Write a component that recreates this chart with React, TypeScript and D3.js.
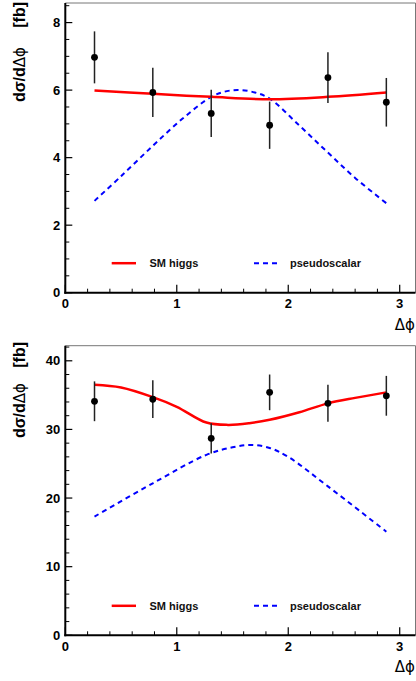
import React from "react";
import * as d3 from "d3";

// ---------- data ----------
const binCenters = [0.262, 0.785, 1.309, 1.833, 2.356, 2.88];

const topData = [6.97, 5.93, 5.31, 4.96, 6.37, 5.64];
const topErr = [0.77, 0.73, 0.7, 0.7, 0.75, 0.72];
const topSmX = [0.262, 0.785, 1.309, 1.833, 2.356, 2.88];
const topSmY = [5.99, 5.89, 5.8, 5.73, 5.8, 5.93];
const topPsX = [0.262, 0.5, 0.785, 1.05, 1.309, 1.45, 1.57, 1.7, 1.833, 2.1, 2.356, 2.6, 2.88];
const topPsY = [2.72, 3.45, 4.35, 5.15, 5.8, 5.97, 6.0, 5.93, 5.75, 4.95, 4.15, 3.4, 2.65];
const topYTicks = [0, 2, 4, 6, 8];

const botData = [34.1, 34.4, 28.7, 35.4, 33.8, 34.9];
const botErr = [2.9, 2.75, 2.2, 2.6, 2.7, 2.9];
const botSmX = [0.262, 0.5, 0.785, 1.0, 1.266, 1.46, 1.65, 1.833, 2.1, 2.356, 2.6, 2.88];
const botSmY = [36.5, 36.1, 34.7, 33.3, 31.0, 30.66, 30.9, 31.4, 32.5, 33.8, 34.6, 35.4];
const botPsX = [0.262, 0.785, 1.266, 1.5, 1.665, 1.833, 2.0, 2.356, 2.88];
const botPsY = [17.3, 22.15, 26.3, 27.4, 27.74, 27.3, 26.0, 21.7, 15.1];
const botYTicks = [0, 10, 20, 30, 40];

const xTicks = [0, 1, 2, 3];
const legendLabels = ["SM higgs", "pseudoscalar"];

const FONT = "'Liberation Sans', Arial, Helvetica, sans-serif";
const GREEK = "'DejaVu Sans', 'Liberation Sans', sans-serif";

type PanelProps = {
  top: number;
  bottom: number;
  yMax: number;
  yTicks: number[];
  yMinorStep: number;
  data: number[];
  err: number[];
  smX: number[];
  smY: number[];
  psX: number[];
  psY: number[];
  unitEnd: number;
  labelEnd: number;
};

function Panel(p: PanelProps) {
  const left = 65.3;
  const right = 415.5;
  const x = d3.scaleLinear().domain([0, Math.PI]).range([left, right]);
  const y = d3.scaleLinear().domain([0, p.yMax]).range([p.bottom, p.top]);

  const line = d3
    .line<[number, number]>()
    .x((d) => x(d[0]))
    .y((d) => y(d[1]))
    .curve(d3.curveCatmullRom.alpha(0.5));

  const smPath = line(p.smX.map((v, i) => [v, p.smY[i]] as [number, number])) || "";
  const psPath = line(p.psX.map((v, i) => [v, p.psY[i]] as [number, number])) || "";

  const xMinor = d3.range(0, 3.15, 0.2).filter((v) => Math.abs(v - Math.round(v)) > 1e-6);
  const yMinor = d3
    .range(0, p.yMax, p.yMinorStep)
    .filter((v) => !p.yTicks.some((t) => Math.abs(t - v) < 1e-6));

  const legendY = p.bottom - 29.5;

  return (
    <g>
      {/* frame */}
      <line x1={left} x2={right} y1={p.top} y2={p.top} stroke="#777" strokeWidth={1} />
      <line x1={right} x2={right} y1={p.top} y2={p.bottom} stroke="#777" strokeWidth={1} />

      {/* curves */}
      <path d={psPath} fill="none" stroke="#0000ff" strokeWidth={2} strokeDasharray="5,4" />
      <path d={smPath} fill="none" stroke="#ff0000" strokeWidth={2.5} />

      {/* data points */}
      {binCenters.map((c, i) => (
        <g key={i}>
          <line
            x1={x(c)}
            x2={x(c)}
            y1={y(p.data[i] + p.err[i])}
            y2={y(p.data[i] - p.err[i])}
            stroke="#222"
            strokeWidth={1.5}
          />
          <circle cx={x(c)} cy={y(p.data[i])} r={3.4} fill="#000" />
        </g>
      ))}

      {/* axes */}
      <line x1={left} x2={left} y1={p.top} y2={p.bottom + 1} stroke="#000" strokeWidth={2} />
      <line x1={left - 1} x2={right} y1={p.bottom} y2={p.bottom} stroke="#000" strokeWidth={2} />

      {xTicks.map((t) => (
        <g key={"xt" + t}>
          <line x1={x(t)} x2={x(t)} y1={p.bottom} y2={p.bottom - 8} stroke="#000" strokeWidth={1.2} />
          <text
            x={x(t)}
            y={p.bottom + 15.5}
            textAnchor="middle"
            fontFamily={FONT}
            fontWeight="bold"
            fontSize={13}
            fill="#000"
          >
            {t}
          </text>
        </g>
      ))}
      {xMinor.map((t, i) => (
        <line key={"xm" + i} x1={x(t)} x2={x(t)} y1={p.bottom} y2={p.bottom - 4} stroke="#000" strokeWidth={1} />
      ))}

      {p.yTicks.map((t) => (
        <g key={"yt" + t}>
          <line x1={left} x2={left + 7} y1={y(t)} y2={y(t)} stroke="#000" strokeWidth={1.2} />
          <text
            x={left - 5}
            y={y(t) + 4.7}
            textAnchor="end"
            fontFamily={FONT}
            fontWeight="bold"
            fontSize={13}
            fill="#000"
          >
            {t}
          </text>
        </g>
      ))}
      {yMinor.map((t, i) => (
        <line key={"ym" + i} x1={left} x2={left + 4} y1={y(t)} y2={y(t)} stroke="#000" strokeWidth={1} />
      ))}

      {/* axis titles */}
      <text
        x={415}
        y={p.bottom + 37}
        textAnchor="end"
        fontFamily={GREEK}
        fontSize={15}
        fill="#000"
      >
        Δϕ
      </text>
      <text
        transform={`translate(24.5, ${p.unitEnd}) rotate(-90)`}
        textAnchor="end"
        fontFamily={FONT}
        fontWeight="bold"
        fontSize={16}
        fill="#000"
      >
        [fb]
      </text>
      <text
        transform={`translate(24.5, ${p.labelEnd}) rotate(-90)`}
        textAnchor="end"
        fontFamily={FONT}
        fontWeight="bold"
        fontSize={16}
        fill="#000"
      >
        <tspan>dσ/d</tspan>
        <tspan fontWeight="normal" fontFamily={GREEK} fontSize={15}>Δϕ</tspan>
      </text>

      {/* legend */}
      <line x1={111.7} x2={136} y1={legendY} y2={legendY} stroke="#ff0000" strokeWidth={2.5} />
      <text x={149.5} y={legendY + 4} fontFamily={FONT} fontWeight="bold" fontSize={11} fill="#111">
        {legendLabels[0]}
      </text>
      <line
        x1={254}
        x2={277}
        y1={legendY}
        y2={legendY}
        stroke="#0000ff"
        strokeWidth={2}
        strokeDasharray="5,4"
      />
      <text x={290} y={legendY + 4} fontFamily={FONT} fontWeight="bold" fontSize={11} fill="#111">
        {legendLabels[1]}
      </text>
    </g>
  );
}

export default function App() {
  return (
    <svg
      width={416}
      height={681}
      style={{ position: "absolute", left: 0, top: 0, background: "#fff" }}
    >
      <rect width={416} height={681} fill="#fff" />
      <Panel
        top={3}
        bottom={292.7}
        yMax={8.58}
        yTicks={topYTicks}
        yMinorStep={0.5}
        data={topData}
        err={topErr}
        smX={topSmX}
        smY={topSmY}
        psX={topPsX}
        psY={topPsY}
        unitEnd={2}
        labelEnd={47}
      />
      <Panel
        top={345.7}
        bottom={635.3}
        yMax={42.2}
        yTicks={botYTicks}
        yMinorStep={2}
        data={botData}
        err={botErr}
        smX={botSmX}
        smY={botSmY}
        psX={botPsX}
        psY={botPsY}
        unitEnd={342}
        labelEnd={383}
      />
    </svg>
  );
}
